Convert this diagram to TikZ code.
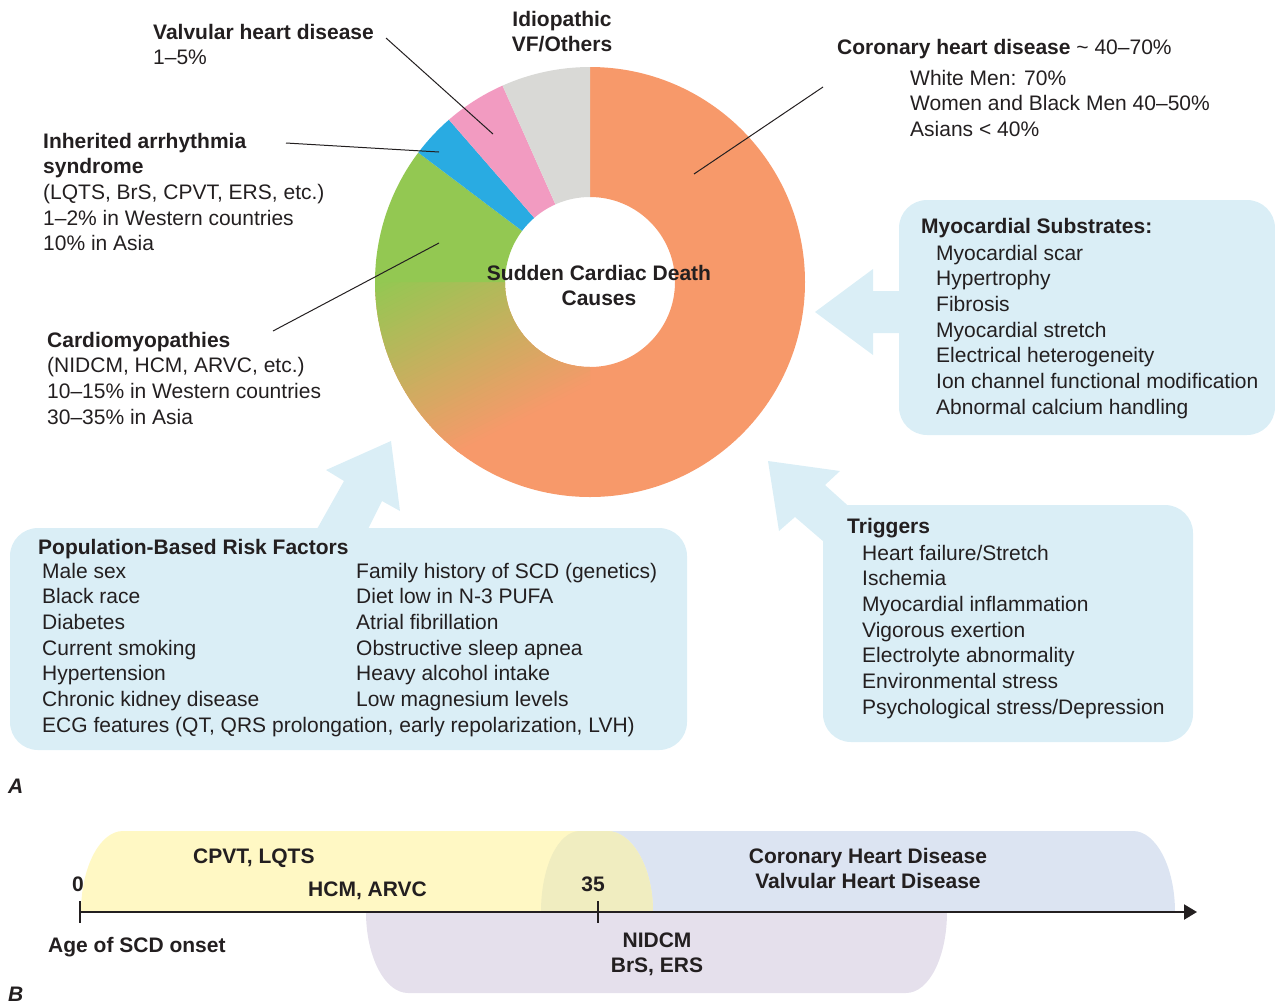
\documentclass[tikz,border=0pt]{standalone}
\usepackage{fontspec}
\setmainfont{Liberation Sans}
\usetikzlibrary{arrows.meta}
\definecolor{ink}{HTML}{231F20}
\definecolor{corange}{HTML}{F7996A}
\definecolor{cgreen}{HTML}{93C852}
\definecolor{cblue}{HTML}{29ABE2}
\definecolor{cpink}{HTML}{F29BC1}
\definecolor{cgray}{HTML}{D9D9D6}
\definecolor{boxblue}{HTML}{DAEEF6}
\definecolor{byellow}{HTML}{FFF8C4}
\definecolor{bblue}{HTML}{DCE4F2}
\definecolor{blav}{HTML}{E5E0EC}
\definecolor{bover}{HTML}{F0EDC0}
\begin{document}
\begin{tikzpicture}[x=1pt,y=-1pt,
  txt/.style={font=\fontsize{21}{25.7}\selectfont, text=ink, inner sep=0pt, align=left, anchor=base west},
  btxt/.style={txt, font=\fontsize{21}{25.7}\selectfont\bfseries},
  leader/.style={draw=ink, line width=1pt},
  panel/.style={fill=boxblue, rounded corners=28pt},
  fatarrow/.style={fill=boxblue}]
\useasboundingbox (0,0) rectangle (1275,1005);
% NOTE: a multi-line node's base anchor is the baseline of its LAST line

% ---------------- donut ----------------
\begin{scope}[shift={(590,282)}]
  \def\Ro{215pt}\def\Ri{85pt}
  \fill[corange] (90:\Ro) arc[start angle=90, end angle=-180, radius=\Ro] -- (180:\Ri) arc[start angle=-180, end angle=90, radius=\Ri] -- cycle;
  \begin{scope}
    \clip (180:\Ro) arc[start angle=180, end angle=270, radius=\Ro] -- (270:\Ri) arc[start angle=270, end angle=180, radius=\Ri] -- cycle;
    \begin{scope}[shift={(-215pt,0pt)}, rotate=26.7]
      \foreach \i in {0,...,47} {
        \pgfmathsetmacro\p{100-\i*100/47}
        \fill[cgreen!\p!corange] (-420pt,-\i*4pt) rectangle (420pt,-\i*4pt-4.6pt);
      }
    \end{scope}
  \end{scope}
  \fill[cgreen] (180:\Ro) arc[start angle=180, end angle=143, radius=\Ro] -- (143:\Ri) arc[start angle=143, end angle=180, radius=\Ri] -- cycle;
  \fill[cblue] (143:\Ro) arc[start angle=143, end angle=131, radius=\Ro] -- (131:\Ri) arc[start angle=131, end angle=143, radius=\Ri] -- cycle;
  \fill[cpink] (131:\Ro) arc[start angle=131, end angle=114, radius=\Ro] -- (114:\Ri) arc[start angle=114, end angle=131, radius=\Ri] -- cycle;
  \fill[cgray] (114:\Ro) arc[start angle=114, end angle=90, radius=\Ro] -- (90:\Ri) arc[start angle=90, end angle=114, radius=\Ri] -- cycle;
\end{scope}
\node[btxt, align=center, anchor=base] (scd) at (599,305.7) {Sudden Cardiac Death\\Causes};

% ---------------- labels ----------------
\node[txt] (valv) at (153,64.7) {\textbf{Valvular heart disease}\\1–5\%};
\node[btxt, align=center, anchor=base] (idio) at (562,51.7) {Idiopathic\\VF/Others};
\node[txt] (inh) at (43,250.8) {\textbf{Inherited arrhythmia}\\\textbf{syndrome}\\(LQTS, BrS, CPVT, ERS, etc.)\\1–2\% in Western countries\\10\% in Asia};
\node[txt] (card) at (47,424.1) {\textbf{Cardiomyopathies}\\(NIDCM, HCM, ARVC, etc.)\\10–15\% in Western countries\\30–35\% in Asia};
\node[txt] (chd) at (837,54) {\textbf{Coronary heart disease} \textasciitilde{} 40–70\%};
\node[txt] (chdl) at (910,136.4) {White Men: 70\%\\Women and Black Men 40–50\%\\Asians < 40\%};

\coordinate (valvA) at (386,38);  \coordinate (valvB) at (493,134);
\coordinate (inhA) at (286,143);  \coordinate (inhB) at (439,152);
\coordinate (cardA) at (273,331); \coordinate (cardB) at (439,243);
\coordinate (chdA) at (823,87);   \coordinate (chdB) at (694,174);
\draw[leader] (valvA) -- (valvB);
\draw[leader] (inhA) -- (inhB);
\draw[leader] (cardA) -- (cardB);
\draw[leader] (chdA) -- (chdB);

% ---------------- panels ----------------
\fill[panel] (899,200) rectangle (1275,435);
\fill[fatarrow] (930,291) -- (873,291) -- (873,269) -- (815,312) -- (873,355) -- (873,333) -- (930,333) -- cycle;
\node[btxt] (myot) at (921,233) {Myocardial Substrates:};
\node[txt] (myol) at (936,414.2) {Myocardial scar\\Hypertrophy\\Fibrosis\\Myocardial stretch\\Electrical heterogeneity\\Ion channel functional modification\\Abnormal calcium handling};

\fill[panel] (823,505) rectangle (1193,742);
\fill[fatarrow] (768,461) -- (840,471) -- (825,485) -- (875,530) -- (845,560) -- (795,517) -- (779,531) -- cycle;
\node[btxt] (trigt) at (847,533) {Triggers};
\node[txt] (trigl) at (862,714.2) {Heart failure/Stretch\\Ischemia\\Myocardial inflammation\\Vigorous exertion\\Electrolyte abnormality\\Environmental stress\\Psychological stress/Depression};

\fill[panel] (10,528) rectangle (687,750);
\fill[fatarrow] (391,441) -- (400,511) -- (382,501) -- (360,545) -- (308,545) -- (344,481) -- (326,470) -- cycle;
\node[btxt] (popt) at (38,554) {Population-Based Risk Factors};
\node[txt] (popl) at (42,706.5) {Male sex\\Black race\\Diabetes\\Current smoking\\Hypertension\\Chronic kidney disease};
\node[txt] (popr) at (356,706.5) {Family history of SCD (genetics)\\Diet low in N-3 PUFA\\Atrial fibrillation\\Obstructive sleep apnea\\Heavy alcohol intake\\Low magnesium levels};
\node[txt] (ecg) at (42,732) {ECG features (QT, QRS prolongation, early repolarization, LVH)};

\node[btxt, font=\fontsize{21}{25.7}\selectfont\bfseries\itshape] (labA) at (8,793) {A};

% ---------------- part B ----------------
\def\blueshape{(541,912) .. controls (541,867) and (558,831) .. (580,831) -- (1133,831) .. controls (1156,831) and (1175,867) .. (1175,912) -- cycle}
\def\yellowshape{(81,912) .. controls (81,867) and (100,831) .. (123,831) -- (607,831) .. controls (632,831) and (653,867) .. (653,912) -- cycle}
\fill[bblue] \blueshape;
\fill[byellow] \yellowshape;
\begin{scope}
  \clip \blueshape;
  \fill[bover] \yellowshape;
\end{scope}
\fill[blav] (366,912) .. controls (366,957) and (385,993) .. (408,993) -- (906,993) .. controls (929,993) and (947,957) .. (947,912) -- cycle;

\coordinate (ax0) at (80,912);
\coordinate (axE) at (1197,912);
\draw[ink, line width=2.2pt, -{Triangle[length=13pt,width=15pt]}] (ax0) -- (axE);
\draw[ink, line width=1.6pt] (80,901) -- (80,923);
\draw[ink, line width=1.6pt] (598,901) -- (598,923);

\node[btxt, anchor=base] (n0) at (78,891) {0};
\node[btxt, anchor=base] (n35) at (593,891) {35};
\node[btxt] (cpvt) at (193,863) {CPVT, LQTS};
\node[btxt] (hcm) at (308,896) {HCM, ARVC};
\node[btxt] (age) at (48,952) {Age of SCD onset};
\node[btxt, align=center, anchor=base] (chdb) at (868,888.7) {Coronary Heart Disease\\Valvular Heart Disease};
\node[btxt, align=center, anchor=base] (nid) at (657,972.7) {NIDCM\\BrS, ERS};
\node[btxt, font=\fontsize{21}{25.7}\selectfont\bfseries\itshape] (labB) at (8,1001) {B};
\end{tikzpicture}
\end{document}
